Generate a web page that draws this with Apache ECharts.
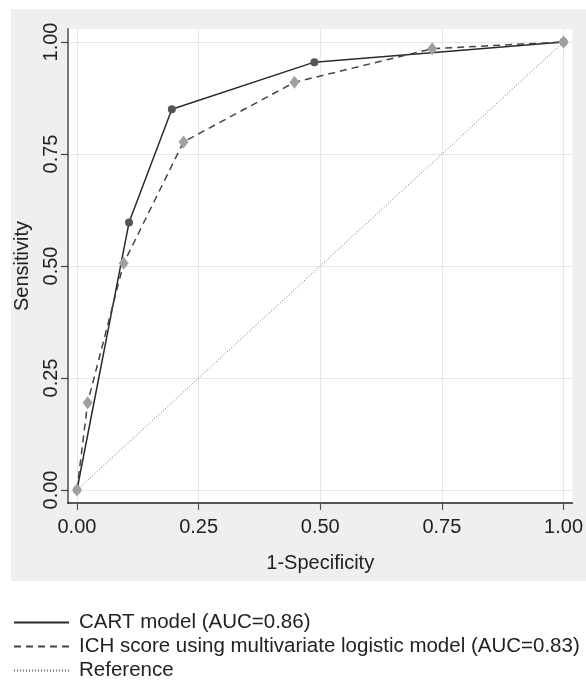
<!DOCTYPE html>
<html><head><meta charset="utf-8">
<script src="https://cdn.jsdelivr.net/npm/echarts@6/dist/echarts.min.js"></script>
<style>html,body{margin:0;padding:0;background:#fff}#c{width:586px;height:681px}</style>
</head><body><div id="c"></div>
<script>
// ---- data ----
const tickValues = [0, 0.25, 0.5, 0.75, 1];
const cartX = [0, 0.107, 0.195, 0.488, 1];
const cartY = [0, 0.597, 0.850, 0.955, 1];
const ichX = [0, 0.022, 0.096, 0.219, 0.447, 0.730, 1];
const ichY = [0, 0.195, 0.506, 0.777, 0.910, 0.985, 1];
const refX = [0, 1];
const refY = [0, 1];
const seriesNames = ['CART model (AUC=0.86)', 'ICH score using multivariate logistic model (AUC=0.83)', 'Reference'];
const xTitle = '1-Specificity';
const yTitle = 'Sensitivity';

const FF = '"Liberation Sans", Arial, Helvetica, sans-serif';
const pairs = (xs, ys) => xs.map((x, i) => [x, ys[i]]);
const fmt = v => v.toFixed(2);

const chart = echarts.init(document.getElementById('c'), null, {renderer: 'canvas'});
chart.setOption({
  animation: false,
  backgroundColor: '#ffffff',
  textStyle: {fontFamily: FF},
  graphic: [{
    type: 'rect', z: -100, silent: true,
    shape: {x: 11, y: 9, width: 575, height: 572},
    style: {fill: '#efefef'}
  }],
  grid: {left: 68, right: 11, top: 29, bottom: 178, show: true, backgroundColor: '#ffffff', borderWidth: 0, containLabel: false},
  xAxis: {
    type: 'value', min: -0.0184, max: 1.0184,
    name: xTitle, nameLocation: 'middle', nameGap: 50,
    nameTextStyle: {fontSize: 20, color: '#222', fontFamily: FF},
    axisLine: {show: true, onZero: false, lineStyle: {color: '#222', width: 1.5}},
    axisTick: {show: true, length: 7, customValues: tickValues, lineStyle: {color: '#555', width: 1.2}},
    axisLabel: {customValues: tickValues, formatter: fmt, fontSize: 20, margin: 14, color: '#222', fontFamily: FF},
    splitLine: {show: true, lineStyle: {color: '#e6e6e6', width: 1}}
  },
  yAxis: {
    type: 'value', min: -0.029, max: 1.029,
    name: yTitle, nameLocation: 'middle', nameGap: 36,
    nameTextStyle: {fontSize: 20, color: '#222', fontFamily: FF},
    axisLine: {show: true, onZero: false, lineStyle: {color: '#777', width: 2}},
    axisTick: {show: true, length: 7, customValues: tickValues, lineStyle: {color: '#444', width: 1.2}},
    axisLabel: {customValues: tickValues, formatter: fmt, fontSize: 20, margin: 7, rotate: 90, color: '#222', fontFamily: FF},
    splitLine: {show: true, lineStyle: {color: '#e6e6e6', width: 1}}
  },
  legend: {
    orient: 'vertical', left: 13, top: 612, padding: 0, height: 69,
    itemWidth: 55, itemHeight: 2, itemGap: 3,
    itemStyle: {opacity: 0},
    textStyle: {fontSize: 20.5, lineHeight: 20, color: '#222', fontFamily: FF, padding: [0, 0, 0, 5]},
    data: seriesNames
  },
  series: [
    {
      name: seriesNames[2], type: 'line', data: pairs(refX, refY), showSymbol: false, symbol: 'none',
      lineStyle: {color: '#6a6a6a', width: 1, type: [1, 2]}, z: 1
    },
    {
      name: seriesNames[0], type: 'line', data: pairs(cartX, cartY),
      symbol: 'circle', symbolSize: 8,
      lineStyle: {color: '#2a2a2a', width: 1.5},
      itemStyle: {color: '#555'}, z: 3
    },
    {
      name: seriesNames[1], type: 'line', data: pairs(ichX, ichY),
      symbol: 'diamond', symbolSize: [10, 13],
      lineStyle: {color: '#444', width: 1.5, type: [7, 5]},
      itemStyle: {color: '#a0a0a0'}, z: 4
    }
  ]
});
</script></body></html>
